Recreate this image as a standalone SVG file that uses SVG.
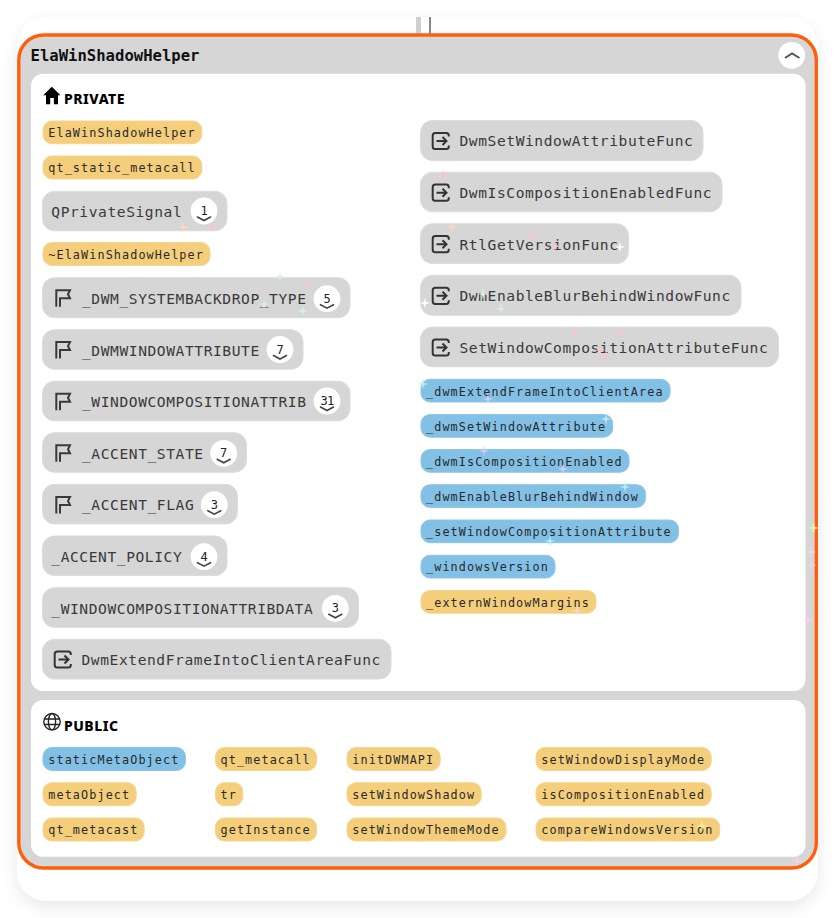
<svg xmlns="http://www.w3.org/2000/svg" xmlns:xlink="http://www.w3.org/1999/xlink" width="835" height="918" viewBox="0 0 835 918">
<style>
text{font-family:"DejaVu Sans Mono","Liberation Mono",monospace}
.y{fill:#f4ce7a;stroke:#f5d48e;stroke-width:1}
.b{fill:#82c0e5;stroke:#8cc6e8;stroke-width:1}
.g{fill:#d6d6d6;stroke:#dcdcdc;stroke-width:1}
.s{font-size:11.8px;letter-spacing:1.09px;fill:#2a2a2a}
.l{font-size:14.6px;letter-spacing:.57px;fill:#3a3a3a}
.t{font-size:15.6px;font-weight:700;fill:#111}
.h{font-family:"Noto Sans",sans-serif;font-size:14px;font-weight:800;letter-spacing:.5px;fill:#000}
.n{font-size:12px;fill:#222;text-anchor:middle}
.c{fill:#fff}
.v{fill:none;stroke:#444;stroke-width:1.6;stroke-linecap:round}
.i{fill:none;stroke:#3a3a3a;stroke-width:2}
</style>
<defs>
<filter id="sh" x="-10%" y="-10%" width="120%" height="120%"><feDropShadow dx="0" dy="6" stdDeviation="8" flood-color="#000" flood-opacity=".09"/></filter>
<g id="flag"><path class="i" d="M56.3 306.8V290.3H70L68 294.3L70 298.3H60V306.8"/></g>
<g id="exit"><path class="i" style="stroke:#333" d="M448.8 136.5V135.5a2.6 2.6 0 0 0-2.6-2.6H435.3a2.6 2.6 0 0 0-2.6 2.6V146.5a2.6 2.6 0 0 0 2.6 2.6H446.2a2.6 2.6 0 0 0 2.6-2.6V145.5M436.5 141H446.5M442.5 137L446.5 141L442.5 145"/></g>
<path id="star" d="M0-5.5L1-1L5.5 0L1 1L0 5.5L-1 1L-5.5 0L-1-1Z"/>
</defs>
<rect x="17" y="17" width="801" height="884" rx="30" fill="#fff" filter="url(#sh)"/>
<g id="connectors">
<rect x="416" y="17" width="5" height="17" fill="#cfcfcf"/>
<rect x="429" y="17" width="2" height="17" fill="#888"/>
</g>
<g id="ElaWinShadowHelper">
<rect x="18.8" y="35" width="797.5" height="833" rx="25" fill="#d6d6d6" stroke="#ff5f0a" stroke-width="3.4"/>
<text class="t" x="30.5" y="61">ElaWinShadowHelper</text>
<circle class="c" cx="791.7" cy="55.3" r="13.4"/>
<path d="M785 58L792 53.5L799.5 58" fill="none" stroke="#555" stroke-width="2"/>
</g>
<g id="private-section">
<rect x="31" y="73.7" width="774.5" height="617.3" rx="12" fill="#fff"/>
<path d="M51.8 86.8L43.2 95.2H46V104.3H50.2V98H53.9V104.3H58V95.2H60.5Z" fill="#000"/>
<text class="h" x="64" y="104">PRIVATE</text>
</g>
<g id="public-section">
<rect x="31" y="700" width="774.5" height="156.7" rx="12" fill="#fff"/>
<g fill="none" stroke="#222" stroke-width="1.4"><circle cx="52" cy="721.7" r="8.2"/><ellipse cx="52" cy="721.7" rx="3.6" ry="8.2"/><path d="M44.3 719H59.7M44.3 724.5H59.7"/></g>
<text class="h" x="64" y="730.7">PUBLIC</text>
</g>

<g id="n1"><rect class="y" x="43" y="121" width="158.8" height="22.7" rx="9"/><text class="s" x="48.3" y="137">ElaWinShadowHelper</text></g>
<g id="n2"><rect class="y" x="43" y="156" width="158.8" height="23" rx="9"/><text class="s" x="48.3" y="172">qt_static_metacall</text></g>
<g id="n3"><rect class="g" x="42.5" y="191.3" width="184.5" height="39.5" rx="12"/><text class="l" x="51.3" y="216.5">QPrivateSignal</text><circle class="c" cx="204" cy="211" r="13.4"/><text class="n" x="204" y="215">1</text><path class="v" d="M197.5 217L204 220.5L210.5 217"/></g>
<g id="n4"><rect class="y" x="43" y="242.5" width="167" height="23" rx="9"/><text class="s" x="48.3" y="258.5">~ElaWinShadowHelper</text></g>
<g id="n5"><rect class="g" x="42.5" y="277.7" width="307.5" height="40" rx="12"/><use xlink:href="#flag" href="#flag"/><text class="l" x="82" y="304">_DWM_SYSTEMBACKDROP_TYPE</text><circle class="c" cx="327" cy="298.7" r="13.4"/><text class="n" x="327" y="302.7">5</text><path class="v" d="M320.5 304.7L327 308.2L333.5 304.7"/></g>
<g id="n6"><rect class="g" x="42.5" y="329.7" width="260.5" height="39.6" rx="12"/><use xlink:href="#flag" href="#flag" y="51.8"/><text class="l" x="82" y="355.5">_DWMWINDOWATTRIBUTE</text><circle class="c" cx="280" cy="349.5" r="13.4"/><text class="n" x="280" y="353.5">7</text><path class="v" d="M273.5 355.5L280 359L286.5 355.5"/></g>
<g id="n7"><rect class="g" x="42.5" y="381.2" width="307.5" height="39.6" rx="12"/><use xlink:href="#flag" href="#flag" y="103.4"/><text class="l" x="82" y="407">_WINDOWCOMPOSITIONATTRIB</text><circle class="c" cx="327" cy="401" r="13.4"/><text class="n" x="327" y="405" style="letter-spacing:-.8px">31</text><path class="v" d="M320.5 407L327 410.5L333.5 407"/></g>
<g id="n8"><rect class="g" x="42.5" y="432.7" width="204" height="39.6" rx="12"/><use xlink:href="#flag" href="#flag" y="155"/><text class="l" x="82" y="459">_ACCENT_STATE</text><circle class="c" cx="223.7" cy="453.3" r="13.4"/><text class="n" x="223.7" y="457.3">7</text><path class="v" d="M217.2 459.3L223.7 462.8L230.2 459.3"/></g>
<g id="n9"><rect class="g" x="42.5" y="484.3" width="195" height="39.6" rx="12"/><use xlink:href="#flag" href="#flag" y="206.6"/><text class="l" x="82" y="510">_ACCENT_FLAG</text><circle class="c" cx="214.3" cy="504.7" r="13.4"/><text class="n" x="214.3" y="508.7">3</text><path class="v" d="M207.8 510.7L214.3 514.2L220.8 510.7"/></g>
<g id="n10"><rect class="g" x="42.5" y="536" width="184.5" height="39.6" rx="12"/><text class="l" x="51.3" y="562">_ACCENT_POLICY</text><circle class="c" cx="204" cy="556.7" r="13.4"/><text class="n" x="204" y="560.7">4</text><path class="v" d="M197.5 562.7L204 566.2L210.5 562.7"/></g>
<g id="n11"><rect class="g" x="42.5" y="587.7" width="316" height="39.8" rx="12"/><text class="l" x="51.3" y="614">_WINDOWCOMPOSITIONATTRIBDATA</text><circle class="c" cx="335.3" cy="608.3" r="13.4"/><text class="n" x="335.3" y="612.3">3</text><path class="v" d="M328.8 614.3L335.3 617.8L341.8 614.3"/></g>
<g id="n12"><rect class="g" x="42.5" y="639.3" width="348.5" height="39.8" rx="12"/><use xlink:href="#exit" href="#exit" x="-378" y="518.5"/><text class="l" x="81.5" y="665">DwmExtendFrameIntoClientAreaFunc</text></g>

<g id="n13"><rect class="g" x="420.5" y="120.5" width="282.5" height="40" rx="12"/><use xlink:href="#exit" href="#exit"/><text class="l" x="459.5" y="146">DwmSetWindowAttributeFunc</text></g>
<g id="n14"><rect class="g" x="420.5" y="172.2" width="301.5" height="39.6" rx="12"/><use xlink:href="#exit" href="#exit" y="51.7"/><text class="l" x="459.5" y="197.7">DwmIsCompositionEnabledFunc</text></g>
<g id="n15"><rect class="g" x="420.5" y="223.7" width="208" height="39.9" rx="12"/><use xlink:href="#exit" href="#exit" y="103.2"/><text class="l" x="459.5" y="249.5">RtlGetVersionFunc</text></g>
<g id="n16"><rect class="g" x="420.5" y="275.3" width="320.5" height="40" rx="12"/><use xlink:href="#exit" href="#exit" y="154.8"/><text class="l" x="459.5" y="301">DwmEnableBlurBehindWindowFunc</text></g>
<g id="n17"><rect class="g" x="420.5" y="327" width="358" height="39.8" rx="12"/><use xlink:href="#exit" href="#exit" y="206.5"/><text class="l" x="459.5" y="352.7">SetWindowCompositionAttributeFunc</text></g>
<g id="n18"><rect class="b" x="421" y="379.3" width="249" height="22.7" rx="9"/><text class="s" x="426" y="395.5">_dwmExtendFrameIntoClientArea</text></g>
<g id="n19"><rect class="b" x="421" y="414.5" width="191.7" height="22.7" rx="9"/><text class="s" x="426" y="430.5">_dwmSetWindowAttribute</text></g>
<g id="n20"><rect class="b" x="421" y="449.5" width="208" height="22.7" rx="9"/><text class="s" x="426" y="466">_dwmIsCompositionEnabled</text></g>
<g id="n21"><rect class="b" x="421" y="484.7" width="224.5" height="22.7" rx="9"/><text class="s" x="426" y="501">_dwmEnableBlurBehindWindow</text></g>
<g id="n22"><rect class="b" x="421" y="520" width="257.5" height="22.7" rx="9"/><text class="s" x="426" y="536">_setWindowCompositionAttribute</text></g>
<g id="n23"><rect class="b" x="421" y="555.3" width="134" height="22.7" rx="9"/><text class="s" x="426" y="571">_windowsVersion</text></g>
<g id="n24"><rect class="y" x="421" y="590.5" width="175" height="22.7" rx="9"/><text class="s" x="426" y="606.5">_externWindowMargins</text></g>

<g id="n25"><rect class="b" x="43" y="747.5" width="142.5" height="23" rx="9"/><text class="s" x="48.3" y="764">staticMetaObject</text></g>
<g id="n26"><rect class="y" x="43" y="782.7" width="93.2" height="23" rx="9"/><text class="s" x="48.3" y="799">metaObject</text></g>
<g id="n27"><rect class="y" x="43" y="818" width="101.2" height="23" rx="9"/><text class="s" x="48.3" y="834">qt_metacast</text></g>
<g id="n28"><rect class="y" x="215.5" y="747.5" width="101" height="23" rx="9"/><text class="s" x="220.5" y="764">qt_metacall</text></g>
<g id="n29"><rect class="y" x="215.5" y="782.7" width="27.3" height="23" rx="9"/><text class="s" x="220.5" y="799">tr</text></g>
<g id="n30"><rect class="y" x="215.5" y="818" width="101" height="23" rx="9"/><text class="s" x="220.5" y="834">getInstance</text></g>
<g id="n31"><rect class="y" x="347" y="747.5" width="93.2" height="23" rx="9"/><text class="s" x="352.3" y="764">initDWMAPI</text></g>
<g id="n32"><rect class="y" x="347" y="782.7" width="134.2" height="23" rx="9"/><text class="s" x="352.3" y="799">setWindowShadow</text></g>
<g id="n33"><rect class="y" x="347" y="818" width="159" height="23" rx="9"/><text class="s" x="352.3" y="834">setWindowThemeMode</text></g>
<g id="n34"><rect class="y" x="536" y="747.5" width="175.2" height="23" rx="9"/><text class="s" x="541.3" y="764">setWindowDisplayMode</text></g>
<g id="n35"><rect class="y" x="536" y="782.7" width="175.2" height="23" rx="9"/><text class="s" x="541.3" y="799">isCompositionEnabled</text></g>
<g id="n36"><rect class="y" x="536" y="818" width="183.7" height="23" rx="9"/><text class="s" x="541.3" y="834">compareWindowsVersion</text></g>

<g id="sparkles">
<g fill="#ffd8c4"><use href="#star" x="183" y="227"/><use href="#star" x="452" y="227"/><use href="#star" x="577" y="611"/></g>
<g fill="#ffc2cc"><use href="#star" x="213" y="227"/><use href="#star" x="307" y="284"/><use href="#star" x="443" y="175"/><use href="#star" x="531" y="236"/><use href="#star" x="555" y="246"/><use href="#star" x="620" y="333"/><use href="#star" x="600" y="350"/><use href="#star" x="606" y="356"/><use href="#star" x="575" y="332"/></g>
<g fill="#d4f5d4"><use href="#star" x="280" y="277"/><use href="#star" x="264" y="304"/><use href="#star" x="303" y="311"/><use href="#star" x="483" y="294"/><use href="#star" x="501" y="309"/></g>
<g fill="#fff"><use href="#star" x="620" y="247"/><use href="#star" x="425" y="303"/></g>
<g fill="#b7f0ee"><use href="#star" x="423" y="384"/><use href="#star" x="606" y="419"/><use href="#star" x="625" y="487"/><use href="#star" x="550" y="541"/></g>
<g fill="#d9c8f2"><use href="#star" x="488" y="399"/><use href="#star" x="484" y="451"/><use href="#star" x="563" y="469"/></g>
<g fill="#f7f3a0"><use href="#star" x="814" y="528"/><use href="#star" x="702" y="826"/></g>
<g fill="#f7cdf0"><use href="#star" x="811" y="552"/><use href="#star" x="811" y="565"/><use href="#star" x="808" y="620"/><use href="#star" x="797" y="861"/></g>
</g>
</svg>
